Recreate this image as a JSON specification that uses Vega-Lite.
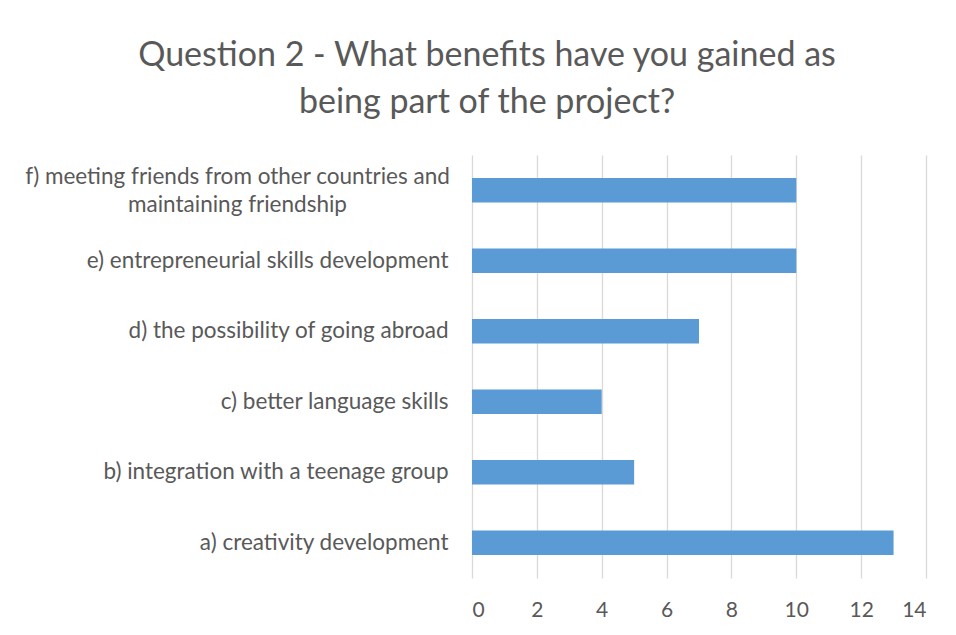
{
  "$schema": "https://vega.github.io/schema/vega-lite/v6.json",
  "width": 454,
  "height": 423,
  "autosize": "none",
  "padding": {"left": 472, "top": 155, "right": 30, "bottom": 57},
  "background": "white",
  "title": {
    "text": ["Question 2 - What benefits have you gained as", "being part of the project?"],
    "anchor": "start",
    "align": "center",
    "dx": 15,
    "frame": "group",
    "font": "Lato",
    "fontSize": 34,
    "fontWeight": "normal",
    "color": "#595959",
    "lineHeight": 47,
    "offset": 35
  },
  "data": {
    "values": [
      {"benefit": "f) meeting friends from other countries and maintaining friendship", "count": 10},
      {"benefit": "e) entrepreneurial skills development", "count": 10},
      {"benefit": "d) the possibility of going abroad", "count": 7},
      {"benefit": "c) better language skills", "count": 4},
      {"benefit": "b) integration with a teenage group", "count": 5},
      {"benefit": "a) creativity development", "count": 13}
    ]
  },
  "mark": {"type": "bar", "color": "#5B9BD5"},
  "encoding": {
    "y": {
      "field": "benefit",
      "type": "nominal",
      "sort": null,
      "scale": {"paddingInner": 0.65, "paddingOuter": 0.325},
      "axis": {
        "title": null,
        "domain": false,
        "ticks": false,
        "labelFont": "Lato",
        "labelFontSize": 22.5,
        "labelColor": "#595959",
        "labelLimit": 600,
        "labelPadding": {"condition": {"test": "indexof(datum.value, 'f)') == 0", "value": 235}, "value": 24},
        "labelAlign": {"condition": {"test": "indexof(datum.value, 'f)') == 0", "value": "center"}, "value": "right"},
        "labelOffset": {"condition": {"test": "indexof(datum.value, 'f)') == 0", "value": -13}, "value": 0},
        "labelLineHeight": 28,
        "labelExpr": "indexof(datum.value, 'f)') == 0 ? ['f) meeting friends from other countries and', 'maintaining friendship'] : datum.value"
      }
    },
    "x": {
      "field": "count",
      "type": "quantitative",
      "scale": {"domain": [0, 14], "nice": false},
      "axis": {
        "title": null,
        "values": [0, 2, 4, 6, 8, 10, 12, 14],
        "domain": false,
        "ticks": false,
        "grid": true,
        "gridColor": "#D9D9D9",
        "gridWidth": 1.3,
        "labelFont": "Lato",
        "labelFontSize": 21,
        "labelColor": "#595959",
        "labelPadding": 21
      }
    }
  },
  "config": {"view": {"stroke": null}}
}
